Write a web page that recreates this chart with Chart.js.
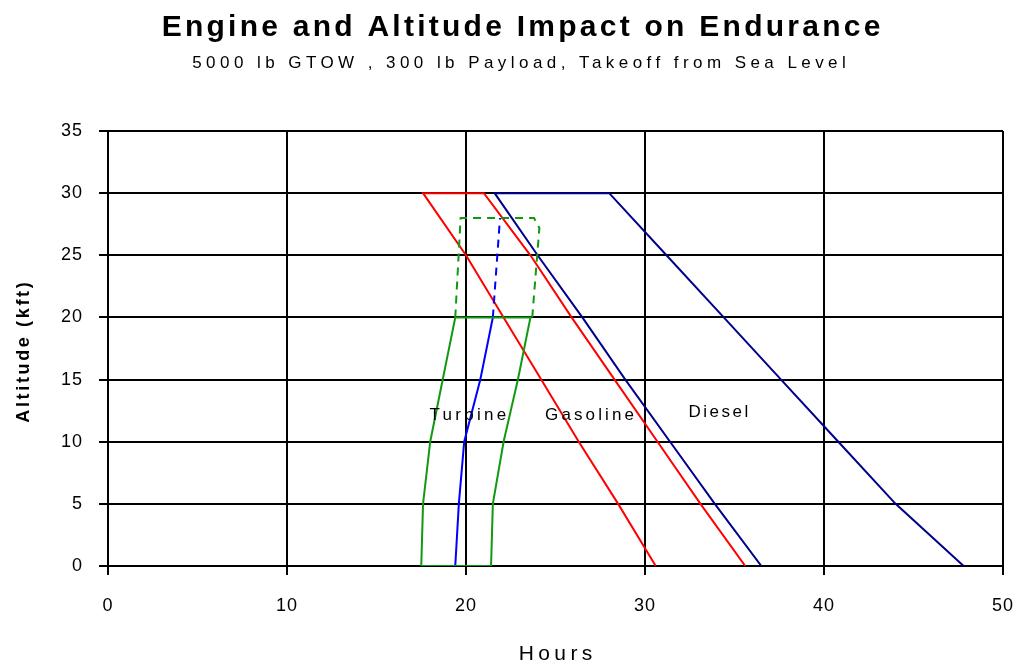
<!DOCTYPE html>
<html>
<head>
<meta charset="utf-8">
<script src="https://cdn.jsdelivr.net/npm/chart.js@4/dist/chart.umd.min.js"></script>
<style>
  html, body { margin: 0; padding: 0; background: #fff; }
</style>
</head>
<body>
<canvas id="chart" width="1016" height="665"></canvas>
<script>
// endurance curves (hours vs altitude in kft)
const upDownAlt = [0, 5, 10, 15, 20, 25, 30, 30, 25, 20, 15, 10, 5, 0];
const dieselHours = [36.5, 33.9, 31.4, 28.9, 26.5, 24.0, 21.6, 28.0, 31.2, 34.4, 37.6, 40.8, 44.0, 47.8];
const gasolineHours = [35.6, 33.1, 30.7, 28.3, 25.9, 23.6, 21.0, 17.6, 20.0, 22.1, 24.2, 26.3, 28.5, 30.6];

const turbineBandAlt = [0, 5, 10, 15, 20, 20, 15, 10, 5, 0, 0];
const turbineBandHours = [17.5, 17.6, 18.0, 18.7, 19.4, 23.6, 22.9, 22.1, 21.5, 21.4, 17.5];
const turbineCeilingAlt = [20, 28, 28, 27.2, 20];
const turbineCeilingHours = [19.4, 19.7, 23.8, 24.1, 23.7];
const turbineAlt = [0, 5, 10, 15, 20];
const turbineHours = [19.4, 19.6, 19.9, 20.8, 21.5];
const turbineTopAlt = [20, 28];
const turbineTopHours = [21.5, 21.9];

const curveNames = ["Turbine", "Gasoline", "Diesel"];
const curveLabelHours = [20.1, 26.9, 34.1];
const curveLabelAlt = [12.1, 12.1, 12.4];

const title = "Engine and Altitude Impact on Endurance";
const subtitle = "5000 lb GTOW , 300 lb Payload, Takeoff from Sea Level";

const FONT = '"Liberation Sans", Arial, sans-serif';

function pts(xs, ys) {
  return xs.map((x, i) => ({ x: x, y: ys[i] }));
}

function line(data, color, dash) {
  return {
    data: data,
    borderColor: color,
    borderWidth: 2,
    borderDash: dash || [],
    pointRadius: 0,
    fill: false,
    tension: 0
  };
}

// text stretched to a width, like the old spreadsheet rendering
function spaced(ctx, text, x, y, font, width) {
  ctx.font = font;
  ctx.letterSpacing = "0px";
  const w = ctx.measureText(text).width;
  const s = (width - w) / text.length;
  ctx.letterSpacing = s + "px";
  ctx.fillText(text, x + s / 2, y);
}

const textPlugin = {
  id: "texts",
  beforeDraw(chart) {
    chart.ctx.letterSpacing = "1px";
  },
  afterDatasetsDraw(chart) {
    const ctx = chart.ctx;
    const xs = chart.scales.x, ys = chart.scales.y;
    const widths = [80, 92, 62];
    ctx.save();
    ctx.fillStyle = "#000";
    ctx.textAlign = "center";
    ctx.textBaseline = "middle";
    curveNames.forEach((name, i) => {
      spaced(ctx, name, xs.getPixelForValue(curveLabelHours[i]),
        ys.getPixelForValue(curveLabelAlt[i]), "17px " + FONT, widths[i]);
    });
    ctx.restore();
  },
  afterDraw(chart) {
    const ctx = chart.ctx;
    const area = chart.chartArea;
    ctx.save();
    ctx.fillStyle = "#000";
    ctx.textAlign = "center";
    ctx.textBaseline = "middle";
    spaced(ctx, title, 521, 28, "bold 30px " + FONT, 722);
    spaced(ctx, subtitle, 519, 63, "17px " + FONT, 658);
    spaced(ctx, "Hours", (area.left + area.right) / 2, 654, "21px " + FONT, 78);
    ctx.translate(24, (area.top + area.bottom) / 2 + 4);
    ctx.rotate(-Math.PI / 2);
    spaced(ctx, "Altitude (kft)", 0, 0, "bold 18px " + FONT, 143);
    ctx.restore();
  }
};

const axisStyle = {
  grid: { color: "#000", lineWidth: 2, tickLength: 9 },
  border: { color: "#000", width: 2 }
};

new Chart(document.getElementById("chart"), {
  type: "line",
  data: {
    datasets: [
      line(pts(turbineBandHours, turbineBandAlt), "#119911"),
      line(pts(turbineCeilingHours, turbineCeilingAlt), "#119911", [8, 6]),
      line(pts(turbineHours, turbineAlt), "#0000ff"),
      line(pts(turbineTopHours, turbineTopAlt), "#0000ff", [8, 6]),
      line(pts(gasolineHours, upDownAlt), "#ff0000"),
      line(pts(dieselHours, upDownAlt), "#00008c")
    ]
  },
  options: {
    responsive: false,
    animation: false,
    layout: { padding: { left: 0, right: 13, top: 131, bottom: 0 } },
    plugins: {
      legend: { display: false },
      tooltip: { enabled: false }
    },
    scales: {
      x: {
        type: "linear",
        min: 0,
        max: 50,
        ticks: { stepSize: 10, color: "#000", padding: 20, font: { size: 18, family: FONT } },
        grid: axisStyle.grid,
        border: axisStyle.border,
        afterFit(scale) {
          scale.height = 99;
          scale.paddingLeft = 0;
          scale.paddingRight = 0;
        }
      },
      y: {
        type: "linear",
        min: 0,
        max: 35,
        ticks: { stepSize: 5, color: "#000", padding: 16, font: { size: 18, family: FONT } },
        grid: axisStyle.grid,
        border: axisStyle.border,
        afterFit(scale) {
          scale.width = 108;
          scale.paddingTop = 0;
          scale.paddingBottom = 0;
        }
      }
    }
  },
  plugins: [textPlugin]
});
</script>
</body>
</html>
